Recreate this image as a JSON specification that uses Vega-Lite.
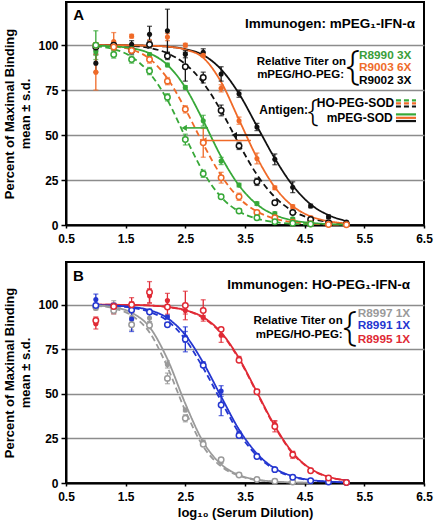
{
"$schema": "https://vega.github.io/schema/vega-lite/v6.json",
"padding": {"left": 2, "top": 1, "right": 0, "bottom": 0},
"spacing": 37,
"bounds": "flush",
"config": {
 "font": "Liberation Sans",
 "view": {"stroke": "black", "strokeWidth": 2},
 "axis": {"labelFont": "Liberation Sans", "labelFontSize": 12, "labelFontWeight": "bold", "labelColor": "black", "titleFont": "Liberation Sans", "titleFontSize": 13, "titleFontWeight": "bold", "titleColor": "black", "domainColor": "black", "domainWidth": 2, "tickColor": "black", "tickWidth": 1.5, "gridColor": "#8c8c8c", "gridWidth": 1.5},
 "axisX": {"grid": false, "tickSize": 3, "labelPadding": 5, "labelFlush": false},
 "axisY": {"tickSize": 5, "labelPadding": 3, "titlePadding": 5, "titleLineHeight": 16}
},
"datasets": {
 "pointsA": [
  {"s":"R9002","ag":"mPEG-SOD","x":1.0,"y":90,"sd":5},{"s":"R9002","ag":"mPEG-SOD","x":1.3,"y":100,"sd":1},{"s":"R9002","ag":"mPEG-SOD","x":1.6,"y":100.5,"sd":2},{"s":"R9002","ag":"mPEG-SOD","x":1.9,"y":106,"sd":4.5},{"s":"R9002","ag":"mPEG-SOD","x":2.2,"y":108,"sd":12},{"s":"R9002","ag":"mPEG-SOD","x":2.5,"y":95,"sd":2},{"s":"R9002","ag":"mPEG-SOD","x":2.8,"y":96,"sd":2},{"s":"R9002","ag":"mPEG-SOD","x":3.1,"y":84,"sd":4},{"s":"R9002","ag":"mPEG-SOD","x":3.4,"y":73,"sd":2},{"s":"R9002","ag":"mPEG-SOD","x":3.7,"y":54.5,"sd":2},{"s":"R9002","ag":"mPEG-SOD","x":4.0,"y":36.5,"sd":3},{"s":"R9002","ag":"mPEG-SOD","x":4.3,"y":21,"sd":3},{"s":"R9002","ag":"mPEG-SOD","x":4.6,"y":10.6,"sd":1},{"s":"R9002","ag":"mPEG-SOD","x":4.9,"y":4.6,"sd":1},{"s":"R9002","ag":"mPEG-SOD","x":5.2,"y":1.7,"sd":0.5},
  {"s":"R9002","ag":"HO-PEG-SOD","x":1.0,"y":99,"sd":2},{"s":"R9002","ag":"HO-PEG-SOD","x":1.3,"y":100,"sd":1},{"s":"R9002","ag":"HO-PEG-SOD","x":1.6,"y":97,"sd":2},{"s":"R9002","ag":"HO-PEG-SOD","x":1.9,"y":100.4,"sd":2},{"s":"R9002","ag":"HO-PEG-SOD","x":2.2,"y":94,"sd":2},{"s":"R9002","ag":"HO-PEG-SOD","x":2.5,"y":88,"sd":8},{"s":"R9002","ag":"HO-PEG-SOD","x":2.8,"y":82,"sd":3},{"s":"R9002","ag":"HO-PEG-SOD","x":3.1,"y":63.7,"sd":3},{"s":"R9002","ag":"HO-PEG-SOD","x":3.4,"y":44,"sd":2},{"s":"R9002","ag":"HO-PEG-SOD","x":3.7,"y":24,"sd":2},{"s":"R9002","ag":"HO-PEG-SOD","x":4.0,"y":12.4,"sd":1},{"s":"R9002","ag":"HO-PEG-SOD","x":4.3,"y":6.9,"sd":1},{"s":"R9002","ag":"HO-PEG-SOD","x":4.6,"y":3,"sd":0.5},{"s":"R9002","ag":"HO-PEG-SOD","x":4.9,"y":1.2,"sd":0.3},{"s":"R9002","ag":"HO-PEG-SOD","x":5.2,"y":0.5,"sd":0.3},
  {"s":"R9003","ag":"mPEG-SOD","x":1.0,"y":85,"sd":10},{"s":"R9003","ag":"mPEG-SOD","x":1.3,"y":102,"sd":5},{"s":"R9003","ag":"mPEG-SOD","x":1.6,"y":105,"sd":1},{"s":"R9003","ag":"mPEG-SOD","x":1.9,"y":101,"sd":2},{"s":"R9003","ag":"mPEG-SOD","x":2.2,"y":104.5,"sd":2},{"s":"R9003","ag":"mPEG-SOD","x":2.5,"y":100,"sd":1},{"s":"R9003","ag":"mPEG-SOD","x":2.8,"y":94.4,"sd":1},{"s":"R9003","ag":"mPEG-SOD","x":3.1,"y":76,"sd":2},{"s":"R9003","ag":"mPEG-SOD","x":3.4,"y":58,"sd":2},{"s":"R9003","ag":"mPEG-SOD","x":3.7,"y":37,"sd":3},{"s":"R9003","ag":"mPEG-SOD","x":4.0,"y":20.7,"sd":1},{"s":"R9003","ag":"mPEG-SOD","x":4.3,"y":10.2,"sd":1},{"s":"R9003","ag":"mPEG-SOD","x":4.6,"y":4,"sd":1},{"s":"R9003","ag":"mPEG-SOD","x":4.9,"y":1.5,"sd":0.5},{"s":"R9003","ag":"mPEG-SOD","x":5.2,"y":0.5,"sd":0.3},
  {"s":"R9003","ag":"HO-PEG-SOD","x":1.0,"y":100,"sd":1},{"s":"R9003","ag":"HO-PEG-SOD","x":1.3,"y":99,"sd":1},{"s":"R9003","ag":"HO-PEG-SOD","x":1.6,"y":97,"sd":1},{"s":"R9003","ag":"HO-PEG-SOD","x":1.9,"y":92,"sd":2},{"s":"R9003","ag":"HO-PEG-SOD","x":2.2,"y":80,"sd":2},{"s":"R9003","ag":"HO-PEG-SOD","x":2.5,"y":64.3,"sd":2},{"s":"R9003","ag":"HO-PEG-SOD","x":2.8,"y":45.7,"sd":8},{"s":"R9003","ag":"HO-PEG-SOD","x":3.1,"y":26.3,"sd":3},{"s":"R9003","ag":"HO-PEG-SOD","x":3.4,"y":15.7,"sd":2},{"s":"R9003","ag":"HO-PEG-SOD","x":3.7,"y":6.9,"sd":1},{"s":"R9003","ag":"HO-PEG-SOD","x":4.0,"y":4,"sd":1},{"s":"R9003","ag":"HO-PEG-SOD","x":4.3,"y":1.5,"sd":0.5},{"s":"R9003","ag":"HO-PEG-SOD","x":4.6,"y":0.7,"sd":0.3},{"s":"R9003","ag":"HO-PEG-SOD","x":4.9,"y":0.3,"sd":0.2},{"s":"R9003","ag":"HO-PEG-SOD","x":5.2,"y":0.2,"sd":0.2},
  {"s":"R8990","ag":"mPEG-SOD","x":1.0,"y":96.3,"sd":2},{"s":"R8990","ag":"mPEG-SOD","x":1.3,"y":98.5,"sd":1},{"s":"R8990","ag":"mPEG-SOD","x":1.6,"y":98,"sd":1},{"s":"R8990","ag":"mPEG-SOD","x":1.9,"y":94.8,"sd":1},{"s":"R8990","ag":"mPEG-SOD","x":2.2,"y":89,"sd":1},{"s":"R8990","ag":"mPEG-SOD","x":2.5,"y":76.5,"sd":1},{"s":"R8990","ag":"mPEG-SOD","x":2.8,"y":58,"sd":3},{"s":"R8990","ag":"mPEG-SOD","x":3.1,"y":35.6,"sd":2},{"s":"R8990","ag":"mPEG-SOD","x":3.4,"y":22.2,"sd":1},{"s":"R8990","ag":"mPEG-SOD","x":3.7,"y":11.9,"sd":1},{"s":"R8990","ag":"mPEG-SOD","x":4.0,"y":6.3,"sd":1},{"s":"R8990","ag":"mPEG-SOD","x":4.3,"y":3.5,"sd":0.5},{"s":"R8990","ag":"mPEG-SOD","x":4.6,"y":2,"sd":0.5},{"s":"R8990","ag":"mPEG-SOD","x":4.9,"y":1,"sd":0.3},{"s":"R8990","ag":"mPEG-SOD","x":5.2,"y":0.5,"sd":0.2},
  {"s":"R8990","ag":"HO-PEG-SOD","x":1.0,"y":100,"sd":8},{"s":"R8990","ag":"HO-PEG-SOD","x":1.3,"y":94.8,"sd":2},{"s":"R8990","ag":"HO-PEG-SOD","x":1.6,"y":92,"sd":2},{"s":"R8990","ag":"HO-PEG-SOD","x":1.9,"y":85.6,"sd":2},{"s":"R8990","ag":"HO-PEG-SOD","x":2.2,"y":71,"sd":2},{"s":"R8990","ag":"HO-PEG-SOD","x":2.5,"y":47.5,"sd":3},{"s":"R8990","ag":"HO-PEG-SOD","x":2.8,"y":28.5,"sd":2},{"s":"R8990","ag":"HO-PEG-SOD","x":3.1,"y":15.7,"sd":1},{"s":"R8990","ag":"HO-PEG-SOD","x":3.4,"y":7.8,"sd":1},{"s":"R8990","ag":"HO-PEG-SOD","x":3.7,"y":4,"sd":1},{"s":"R8990","ag":"HO-PEG-SOD","x":4.0,"y":1.8,"sd":0.5},{"s":"R8990","ag":"HO-PEG-SOD","x":4.3,"y":1,"sd":0.3},{"s":"R8990","ag":"HO-PEG-SOD","x":4.6,"y":0.5,"sd":0.2}
 ],
 "curvesA": [
  {"s":"R9002","ag":"mPEG-SOD","x":1.0,"y":100},{"s":"R9002","ag":"mPEG-SOD","x":1.3,"y":100},{"s":"R9002","ag":"mPEG-SOD","x":1.6,"y":99.9},{"s":"R9002","ag":"mPEG-SOD","x":1.9,"y":99.7},{"s":"R9002","ag":"mPEG-SOD","x":2.2,"y":99.2},{"s":"R9002","ag":"mPEG-SOD","x":2.5,"y":97.8},{"s":"R9002","ag":"mPEG-SOD","x":2.8,"y":94.5},{"s":"R9002","ag":"mPEG-SOD","x":3.1,"y":86.5},{"s":"R9002","ag":"mPEG-SOD","x":3.4,"y":73},{"s":"R9002","ag":"mPEG-SOD","x":3.7,"y":55},{"s":"R9002","ag":"mPEG-SOD","x":4.0,"y":37},{"s":"R9002","ag":"mPEG-SOD","x":4.3,"y":22},{"s":"R9002","ag":"mPEG-SOD","x":4.6,"y":11.5},{"s":"R9002","ag":"mPEG-SOD","x":4.9,"y":5.5},{"s":"R9002","ag":"mPEG-SOD","x":5.2,"y":2.2},
  {"s":"R9002","ag":"HO-PEG-SOD","x":1.0,"y":100},{"s":"R9002","ag":"HO-PEG-SOD","x":1.3,"y":99.9},{"s":"R9002","ag":"HO-PEG-SOD","x":1.6,"y":99.6},{"s":"R9002","ag":"HO-PEG-SOD","x":1.9,"y":98.5},{"s":"R9002","ag":"HO-PEG-SOD","x":2.2,"y":95.5},{"s":"R9002","ag":"HO-PEG-SOD","x":2.5,"y":89.5},{"s":"R9002","ag":"HO-PEG-SOD","x":2.8,"y":79},{"s":"R9002","ag":"HO-PEG-SOD","x":3.1,"y":63.5},{"s":"R9002","ag":"HO-PEG-SOD","x":3.4,"y":45},{"s":"R9002","ag":"HO-PEG-SOD","x":3.7,"y":28},{"s":"R9002","ag":"HO-PEG-SOD","x":4.0,"y":15.5},{"s":"R9002","ag":"HO-PEG-SOD","x":4.3,"y":7.8},{"s":"R9002","ag":"HO-PEG-SOD","x":4.6,"y":3.7},{"s":"R9002","ag":"HO-PEG-SOD","x":4.9,"y":1.7},{"s":"R9002","ag":"HO-PEG-SOD","x":5.2,"y":0.7},
  {"s":"R9003","ag":"mPEG-SOD","x":1.0,"y":100},{"s":"R9003","ag":"mPEG-SOD","x":1.3,"y":100},{"s":"R9003","ag":"mPEG-SOD","x":1.6,"y":99.9},{"s":"R9003","ag":"mPEG-SOD","x":1.9,"y":99.7},{"s":"R9003","ag":"mPEG-SOD","x":2.2,"y":99.2},{"s":"R9003","ag":"mPEG-SOD","x":2.5,"y":97.5},{"s":"R9003","ag":"mPEG-SOD","x":2.8,"y":93},{"s":"R9003","ag":"mPEG-SOD","x":3.1,"y":79.5},{"s":"R9003","ag":"mPEG-SOD","x":3.4,"y":58.5},{"s":"R9003","ag":"mPEG-SOD","x":3.7,"y":37.5},{"s":"R9003","ag":"mPEG-SOD","x":4.0,"y":21},{"s":"R9003","ag":"mPEG-SOD","x":4.3,"y":10.5},{"s":"R9003","ag":"mPEG-SOD","x":4.6,"y":4.8},{"s":"R9003","ag":"mPEG-SOD","x":4.9,"y":2.1},{"s":"R9003","ag":"mPEG-SOD","x":5.2,"y":0.9},
  {"s":"R9003","ag":"HO-PEG-SOD","x":1.0,"y":99.8},{"s":"R9003","ag":"HO-PEG-SOD","x":1.3,"y":99.2},{"s":"R9003","ag":"HO-PEG-SOD","x":1.6,"y":97.5},{"s":"R9003","ag":"HO-PEG-SOD","x":1.9,"y":92.5},{"s":"R9003","ag":"HO-PEG-SOD","x":2.2,"y":81.5},{"s":"R9003","ag":"HO-PEG-SOD","x":2.5,"y":64.5},{"s":"R9003","ag":"HO-PEG-SOD","x":2.8,"y":45},{"s":"R9003","ag":"HO-PEG-SOD","x":3.1,"y":27.5},{"s":"R9003","ag":"HO-PEG-SOD","x":3.4,"y":15},{"s":"R9003","ag":"HO-PEG-SOD","x":3.7,"y":7.5},{"s":"R9003","ag":"HO-PEG-SOD","x":4.0,"y":3.5},{"s":"R9003","ag":"HO-PEG-SOD","x":4.3,"y":1.6},{"s":"R9003","ag":"HO-PEG-SOD","x":4.6,"y":0.7},{"s":"R9003","ag":"HO-PEG-SOD","x":4.9,"y":0.3},{"s":"R9003","ag":"HO-PEG-SOD","x":5.2,"y":0.1},
  {"s":"R8990","ag":"mPEG-SOD","x":1.0,"y":99.7},{"s":"R8990","ag":"mPEG-SOD","x":1.3,"y":99.3},{"s":"R8990","ag":"mPEG-SOD","x":1.6,"y":98.3},{"s":"R8990","ag":"mPEG-SOD","x":1.9,"y":95.5},{"s":"R8990","ag":"mPEG-SOD","x":2.2,"y":89},{"s":"R8990","ag":"mPEG-SOD","x":2.5,"y":76.5},{"s":"R8990","ag":"mPEG-SOD","x":2.8,"y":58},{"s":"R8990","ag":"mPEG-SOD","x":3.1,"y":38},{"s":"R8990","ag":"mPEG-SOD","x":3.4,"y":22},{"s":"R8990","ag":"mPEG-SOD","x":3.7,"y":11.5},{"s":"R8990","ag":"mPEG-SOD","x":4.0,"y":5.6},{"s":"R8990","ag":"mPEG-SOD","x":4.3,"y":2.6},{"s":"R8990","ag":"mPEG-SOD","x":4.6,"y":1.2},{"s":"R8990","ag":"mPEG-SOD","x":4.9,"y":0.5},{"s":"R8990","ag":"mPEG-SOD","x":5.2,"y":0.2},
  {"s":"R8990","ag":"HO-PEG-SOD","x":1.0,"y":99.3},{"s":"R8990","ag":"HO-PEG-SOD","x":1.3,"y":97.8},{"s":"R8990","ag":"HO-PEG-SOD","x":1.6,"y":93.5},{"s":"R8990","ag":"HO-PEG-SOD","x":1.9,"y":84.5},{"s":"R8990","ag":"HO-PEG-SOD","x":2.2,"y":69.5},{"s":"R8990","ag":"HO-PEG-SOD","x":2.5,"y":49},{"s":"R8990","ag":"HO-PEG-SOD","x":2.8,"y":29.5},{"s":"R8990","ag":"HO-PEG-SOD","x":3.1,"y":15.5},{"s":"R8990","ag":"HO-PEG-SOD","x":3.4,"y":7.5},{"s":"R8990","ag":"HO-PEG-SOD","x":3.7,"y":3.5},{"s":"R8990","ag":"HO-PEG-SOD","x":4.0,"y":1.6},{"s":"R8990","ag":"HO-PEG-SOD","x":4.3,"y":0.7},{"s":"R8990","ag":"HO-PEG-SOD","x":4.6,"y":0.3}
 ],
 "arrowsA": [
  {"s":"R8990","x":2.48,"x2":2.88,"y":54},
  {"s":"R9003","x":2.81,"x2":3.6,"y":47},
  {"s":"R9002","x":3.32,"x2":3.77,"y":50}
 ],
 "pointsB": [
  {"s":"R8997","ag":"mPEG-SOD","x":1.0,"y":98,"sd":1},{"s":"R8997","ag":"mPEG-SOD","x":1.3,"y":99.3,"sd":3},{"s":"R8997","ag":"mPEG-SOD","x":1.6,"y":93,"sd":2},{"s":"R8997","ag":"mPEG-SOD","x":1.9,"y":92.6,"sd":2},{"s":"R8997","ag":"mPEG-SOD","x":2.2,"y":66.5,"sd":2},{"s":"R8997","ag":"mPEG-SOD","x":2.5,"y":41,"sd":1},{"s":"R8997","ag":"mPEG-SOD","x":2.8,"y":23,"sd":1},{"s":"R8997","ag":"mPEG-SOD","x":3.1,"y":12,"sd":1},{"s":"R8997","ag":"mPEG-SOD","x":3.4,"y":4.7,"sd":0.5},{"s":"R8997","ag":"mPEG-SOD","x":3.7,"y":2,"sd":0.5},{"s":"R8997","ag":"mPEG-SOD","x":4.0,"y":1,"sd":0.3},{"s":"R8997","ag":"mPEG-SOD","x":4.3,"y":0.8,"sd":0.3},{"s":"R8997","ag":"mPEG-SOD","x":4.6,"y":0.5,"sd":0.2},
  {"s":"R8997","ag":"HO-PEG-SOD","x":1.0,"y":98.7,"sd":1},{"s":"R8997","ag":"HO-PEG-SOD","x":1.3,"y":96.8,"sd":2},{"s":"R8997","ag":"HO-PEG-SOD","x":1.6,"y":88.8,"sd":3},{"s":"R8997","ag":"HO-PEG-SOD","x":1.9,"y":88.5,"sd":2},{"s":"R8997","ag":"HO-PEG-SOD","x":2.2,"y":58.7,"sd":3},{"s":"R8997","ag":"HO-PEG-SOD","x":2.5,"y":36.3,"sd":2},{"s":"R8997","ag":"HO-PEG-SOD","x":2.8,"y":21.8,"sd":1},{"s":"R8997","ag":"HO-PEG-SOD","x":3.1,"y":13,"sd":1},{"s":"R8997","ag":"HO-PEG-SOD","x":3.4,"y":4.5,"sd":0.5},{"s":"R8997","ag":"HO-PEG-SOD","x":3.7,"y":1.9,"sd":0.5},{"s":"R8997","ag":"HO-PEG-SOD","x":4.0,"y":1,"sd":0.3},{"s":"R8997","ag":"HO-PEG-SOD","x":4.3,"y":0.5,"sd":0.2},
  {"s":"R8991","ag":"mPEG-SOD","x":1.0,"y":103,"sd":3},{"s":"R8991","ag":"mPEG-SOD","x":1.3,"y":99.5,"sd":1},{"s":"R8991","ag":"mPEG-SOD","x":1.6,"y":92,"sd":7},{"s":"R8991","ag":"mPEG-SOD","x":1.9,"y":96.5,"sd":1},{"s":"R8991","ag":"mPEG-SOD","x":2.2,"y":93.1,"sd":1},{"s":"R8991","ag":"mPEG-SOD","x":2.5,"y":82,"sd":3},{"s":"R8991","ag":"mPEG-SOD","x":2.8,"y":67,"sd":1},{"s":"R8991","ag":"mPEG-SOD","x":3.1,"y":51.6,"sd":3},{"s":"R8991","ag":"mPEG-SOD","x":3.4,"y":28,"sd":1},{"s":"R8991","ag":"mPEG-SOD","x":3.7,"y":15.5,"sd":1},{"s":"R8991","ag":"mPEG-SOD","x":4.0,"y":8,"sd":0.5},{"s":"R8991","ag":"mPEG-SOD","x":4.3,"y":3.5,"sd":0.5},{"s":"R8991","ag":"mPEG-SOD","x":4.6,"y":1.5,"sd":0.3},{"s":"R8991","ag":"mPEG-SOD","x":4.9,"y":0.7,"sd":0.2},{"s":"R8991","ag":"mPEG-SOD","x":5.2,"y":0.3,"sd":0.2},
  {"s":"R8991","ag":"HO-PEG-SOD","x":1.0,"y":99.6,"sd":1},{"s":"R8991","ag":"HO-PEG-SOD","x":1.3,"y":99.3,"sd":1},{"s":"R8991","ag":"HO-PEG-SOD","x":1.6,"y":97,"sd":1},{"s":"R8991","ag":"HO-PEG-SOD","x":1.9,"y":95.9,"sd":1},{"s":"R8991","ag":"HO-PEG-SOD","x":2.2,"y":88.8,"sd":1},{"s":"R8991","ag":"HO-PEG-SOD","x":2.5,"y":80.6,"sd":7},{"s":"R8991","ag":"HO-PEG-SOD","x":2.8,"y":66,"sd":1},{"s":"R8991","ag":"HO-PEG-SOD","x":3.1,"y":43.8,"sd":6},{"s":"R8991","ag":"HO-PEG-SOD","x":3.4,"y":26.6,"sd":1},{"s":"R8991","ag":"HO-PEG-SOD","x":3.7,"y":14.9,"sd":1},{"s":"R8991","ag":"HO-PEG-SOD","x":4.0,"y":7.5,"sd":0.5},{"s":"R8991","ag":"HO-PEG-SOD","x":4.3,"y":3.2,"sd":0.5},{"s":"R8991","ag":"HO-PEG-SOD","x":4.6,"y":1.3,"sd":0.3},{"s":"R8991","ag":"HO-PEG-SOD","x":4.9,"y":0.6,"sd":0.2},{"s":"R8991","ag":"HO-PEG-SOD","x":5.2,"y":0.3,"sd":0.2},
  {"s":"R8995","ag":"mPEG-SOD","x":1.0,"y":89.4,"sd":3},{"s":"R8995","ag":"mPEG-SOD","x":1.3,"y":98,"sd":3},{"s":"R8995","ag":"mPEG-SOD","x":1.6,"y":98.7,"sd":3},{"s":"R8995","ag":"mPEG-SOD","x":1.9,"y":105,"sd":4},{"s":"R8995","ag":"mPEG-SOD","x":2.2,"y":102.4,"sd":4},{"s":"R8995","ag":"mPEG-SOD","x":2.5,"y":96.8,"sd":2},{"s":"R8995","ag":"mPEG-SOD","x":2.8,"y":93,"sd":1},{"s":"R8995","ag":"mPEG-SOD","x":3.1,"y":82.9,"sd":4},{"s":"R8995","ag":"mPEG-SOD","x":3.4,"y":70,"sd":1},{"s":"R8995","ag":"mPEG-SOD","x":3.7,"y":51.5,"sd":1},{"s":"R8995","ag":"mPEG-SOD","x":4.0,"y":33,"sd":2},{"s":"R8995","ag":"mPEG-SOD","x":4.3,"y":16.5,"sd":1},{"s":"R8995","ag":"mPEG-SOD","x":4.6,"y":7.2,"sd":1},{"s":"R8995","ag":"mPEG-SOD","x":4.9,"y":3,"sd":0.5},{"s":"R8995","ag":"mPEG-SOD","x":5.2,"y":0.5,"sd":0.3},
  {"s":"R8995","ag":"HO-PEG-SOD","x":1.0,"y":91.2,"sd":2},{"s":"R8995","ag":"HO-PEG-SOD","x":1.3,"y":99,"sd":1},{"s":"R8995","ag":"HO-PEG-SOD","x":1.6,"y":100,"sd":4},{"s":"R8995","ag":"HO-PEG-SOD","x":1.9,"y":107,"sd":6},{"s":"R8995","ag":"HO-PEG-SOD","x":2.2,"y":98.7,"sd":4},{"s":"R8995","ag":"HO-PEG-SOD","x":2.5,"y":99.6,"sd":8},{"s":"R8995","ag":"HO-PEG-SOD","x":2.8,"y":96.8,"sd":6},{"s":"R8995","ag":"HO-PEG-SOD","x":3.1,"y":86.2,"sd":1},{"s":"R8995","ag":"HO-PEG-SOD","x":3.4,"y":68.9,"sd":1},{"s":"R8995","ag":"HO-PEG-SOD","x":3.7,"y":51.2,"sd":1},{"s":"R8995","ag":"HO-PEG-SOD","x":4.0,"y":31.7,"sd":3},{"s":"R8995","ag":"HO-PEG-SOD","x":4.3,"y":15.8,"sd":2},{"s":"R8995","ag":"HO-PEG-SOD","x":4.6,"y":6.9,"sd":1},{"s":"R8995","ag":"HO-PEG-SOD","x":4.9,"y":2.8,"sd":0.5},{"s":"R8995","ag":"HO-PEG-SOD","x":5.2,"y":0.3,"sd":0.2}
 ],
 "curvesB": [
  {"s":"R8995","ag":"mPEG-SOD","x":1.0,"y":100},{"s":"R8995","ag":"mPEG-SOD","x":1.3,"y":100},{"s":"R8995","ag":"mPEG-SOD","x":1.6,"y":99.9},{"s":"R8995","ag":"mPEG-SOD","x":1.9,"y":99.6},{"s":"R8995","ag":"mPEG-SOD","x":2.2,"y":98.8},{"s":"R8995","ag":"mPEG-SOD","x":2.5,"y":97},{"s":"R8995","ag":"mPEG-SOD","x":2.8,"y":93},{"s":"R8995","ag":"mPEG-SOD","x":3.1,"y":84.5},{"s":"R8995","ag":"mPEG-SOD","x":3.4,"y":70},{"s":"R8995","ag":"mPEG-SOD","x":3.7,"y":51},{"s":"R8995","ag":"mPEG-SOD","x":4.0,"y":32},{"s":"R8995","ag":"mPEG-SOD","x":4.3,"y":17},{"s":"R8995","ag":"mPEG-SOD","x":4.6,"y":8},{"s":"R8995","ag":"mPEG-SOD","x":4.9,"y":3.5},{"s":"R8995","ag":"mPEG-SOD","x":5.2,"y":1.5},
  {"s":"R8995","ag":"HO-PEG-SOD","x":1.0,"y":100},{"s":"R8995","ag":"HO-PEG-SOD","x":1.3,"y":100},{"s":"R8995","ag":"HO-PEG-SOD","x":1.6,"y":99.9},{"s":"R8995","ag":"HO-PEG-SOD","x":1.9,"y":99.6},{"s":"R8995","ag":"HO-PEG-SOD","x":2.2,"y":98.7},{"s":"R8995","ag":"HO-PEG-SOD","x":2.5,"y":96.8},{"s":"R8995","ag":"HO-PEG-SOD","x":2.8,"y":92.6},{"s":"R8995","ag":"HO-PEG-SOD","x":3.1,"y":84},{"s":"R8995","ag":"HO-PEG-SOD","x":3.4,"y":69.5},{"s":"R8995","ag":"HO-PEG-SOD","x":3.7,"y":50.5},{"s":"R8995","ag":"HO-PEG-SOD","x":4.0,"y":31.5},{"s":"R8995","ag":"HO-PEG-SOD","x":4.3,"y":16.5},{"s":"R8995","ag":"HO-PEG-SOD","x":4.6,"y":7.8},{"s":"R8995","ag":"HO-PEG-SOD","x":4.9,"y":3.3},{"s":"R8995","ag":"HO-PEG-SOD","x":5.2,"y":1.4},
  {"s":"R8991","ag":"mPEG-SOD","x":1.0,"y":99.8},{"s":"R8991","ag":"mPEG-SOD","x":1.3,"y":99.5},{"s":"R8991","ag":"mPEG-SOD","x":1.6,"y":98.8},{"s":"R8991","ag":"mPEG-SOD","x":1.9,"y":97},{"s":"R8991","ag":"mPEG-SOD","x":2.2,"y":92.5},{"s":"R8991","ag":"mPEG-SOD","x":2.5,"y":83},{"s":"R8991","ag":"mPEG-SOD","x":2.8,"y":67.5},{"s":"R8991","ag":"mPEG-SOD","x":3.1,"y":48.5},{"s":"R8991","ag":"mPEG-SOD","x":3.4,"y":30},{"s":"R8991","ag":"mPEG-SOD","x":3.7,"y":16.5},{"s":"R8991","ag":"mPEG-SOD","x":4.0,"y":8.2},{"s":"R8991","ag":"mPEG-SOD","x":4.3,"y":3.8},{"s":"R8991","ag":"mPEG-SOD","x":4.6,"y":1.7},{"s":"R8991","ag":"mPEG-SOD","x":4.9,"y":0.8},{"s":"R8991","ag":"mPEG-SOD","x":5.2,"y":0.3},
  {"s":"R8991","ag":"HO-PEG-SOD","x":1.0,"y":99.7},{"s":"R8991","ag":"HO-PEG-SOD","x":1.3,"y":99.3},{"s":"R8991","ag":"HO-PEG-SOD","x":1.6,"y":98.3},{"s":"R8991","ag":"HO-PEG-SOD","x":1.9,"y":96},{"s":"R8991","ag":"HO-PEG-SOD","x":2.2,"y":91},{"s":"R8991","ag":"HO-PEG-SOD","x":2.5,"y":80.5},{"s":"R8991","ag":"HO-PEG-SOD","x":2.8,"y":64.5},{"s":"R8991","ag":"HO-PEG-SOD","x":3.1,"y":46},{"s":"R8991","ag":"HO-PEG-SOD","x":3.4,"y":28},{"s":"R8991","ag":"HO-PEG-SOD","x":3.7,"y":15.3},{"s":"R8991","ag":"HO-PEG-SOD","x":4.0,"y":7.6},{"s":"R8991","ag":"HO-PEG-SOD","x":4.3,"y":3.5},{"s":"R8991","ag":"HO-PEG-SOD","x":4.6,"y":1.5},{"s":"R8991","ag":"HO-PEG-SOD","x":4.9,"y":0.7},{"s":"R8991","ag":"HO-PEG-SOD","x":5.2,"y":0.3},
  {"s":"R8997","ag":"mPEG-SOD","x":1.0,"y":99.6},{"s":"R8997","ag":"mPEG-SOD","x":1.3,"y":98.7},{"s":"R8997","ag":"mPEG-SOD","x":1.6,"y":95.5},{"s":"R8997","ag":"mPEG-SOD","x":1.9,"y":87.5},{"s":"R8997","ag":"mPEG-SOD","x":2.2,"y":69.5},{"s":"R8997","ag":"mPEG-SOD","x":2.5,"y":44.5},{"s":"R8997","ag":"mPEG-SOD","x":2.8,"y":23},{"s":"R8997","ag":"mPEG-SOD","x":3.1,"y":10.5},{"s":"R8997","ag":"mPEG-SOD","x":3.4,"y":4.5},{"s":"R8997","ag":"mPEG-SOD","x":3.7,"y":1.9},{"s":"R8997","ag":"mPEG-SOD","x":4.0,"y":0.8},{"s":"R8997","ag":"mPEG-SOD","x":4.3,"y":0.3},{"s":"R8997","ag":"mPEG-SOD","x":4.6,"y":0.1},
  {"s":"R8997","ag":"HO-PEG-SOD","x":1.0,"y":99.4},{"s":"R8997","ag":"HO-PEG-SOD","x":1.3,"y":98},{"s":"R8997","ag":"HO-PEG-SOD","x":1.6,"y":94},{"s":"R8997","ag":"HO-PEG-SOD","x":1.9,"y":84.5},{"s":"R8997","ag":"HO-PEG-SOD","x":2.2,"y":65},{"s":"R8997","ag":"HO-PEG-SOD","x":2.5,"y":40.5},{"s":"R8997","ag":"HO-PEG-SOD","x":2.8,"y":20.5},{"s":"R8997","ag":"HO-PEG-SOD","x":3.1,"y":9.3},{"s":"R8997","ag":"HO-PEG-SOD","x":3.4,"y":4},{"s":"R8997","ag":"HO-PEG-SOD","x":3.7,"y":1.7},{"s":"R8997","ag":"HO-PEG-SOD","x":4.0,"y":0.7},{"s":"R8997","ag":"HO-PEG-SOD","x":4.3,"y":0.3},{"s":"R8997","ag":"HO-PEG-SOD","x":4.6,"y":0.1}
 ]
},
"vconcat": [
 {
  "width": 358, "height": 223,
  "layer": [
   {"data": {"name": "curvesA"},
    "mark": {"type": "line", "interpolate": "monotone", "strokeWidth": 1.8},
    "encoding": {
     "x": {"field": "x", "type": "quantitative", "title": null, "scale": {"domain": [0.5, 6.5], "nice": false, "zero": false}, "axis": {"values": [0.5,1,1.5,2,2.5,3,3.5,4,4.5,5,5.5,6,6.5], "labelExpr": "datum.value % 1 == 0.5 ? format(datum.value, '.1f') : ''"}},
     "y": {"field": "y", "type": "quantitative", "title": ["Percent of Maximal Binding", "mean ± s.d."], "scale": {"domain": [0, 124], "nice": false}, "axis": {"values": [0,25,50,75,100]}},
     "color": {"field": "s", "type": "nominal", "legend": null, "scale": {"domain": ["R8990","R9003","R9002","R8997","R8991","R8995"], "range": ["#37a838","#f06a28","#111111","#9a9a9a","#2436d0","#e02a35"]}},
     "strokeDash": {"field": "ag", "type": "nominal", "legend": null, "scale": {"domain": ["mPEG-SOD","HO-PEG-SOD"], "range": [[1,0],[6,3.5]]}}
    }},
   {"data": {"name": "pointsA"},
    "mark": {"type": "errorbar", "ticks": true, "thickness": 1.3},
    "encoding": {"x": {"field": "x", "type": "quantitative", "title": null}, "y": {"field": "y", "type": "quantitative", "title": ["Percent of Maximal Binding", "mean ± s.d."]}, "yError": {"field": "sd"}, "color": {"field": "s", "type": "nominal", "legend": null}}},
   {"data": {"name": "arrowsA"},
    "mark": {"type": "rule", "strokeWidth": 1.6},
    "encoding": {"x": {"field": "x", "type": "quantitative", "title": null}, "x2": {"field": "x2"}, "y": {"field": "y", "type": "quantitative", "title": ["Percent of Maximal Binding", "mean ± s.d."]}, "color": {"field": "s", "type": "nominal", "legend": null}}},
   {"data": {"name": "arrowsA"},
    "mark": {"type": "point", "shape": "triangle-left", "filled": true, "size": 40, "opacity": 1},
    "encoding": {"x": {"field": "x", "type": "quantitative", "title": null}, "y": {"field": "y", "type": "quantitative", "title": ["Percent of Maximal Binding", "mean ± s.d."]}, "color": {"field": "s", "type": "nominal", "legend": null}}},
   {"data": {"name": "pointsA"},
    "transform": [{"filter": "datum.ag == 'mPEG-SOD'"}],
    "mark": {"type": "circle", "size": 26, "opacity": 1},
    "encoding": {"x": {"field": "x", "type": "quantitative", "title": null}, "y": {"field": "y", "type": "quantitative", "title": ["Percent of Maximal Binding", "mean ± s.d."]}, "color": {"field": "s", "type": "nominal", "legend": null}}},
   {"data": {"name": "pointsA"},
    "transform": [{"filter": "datum.ag == 'HO-PEG-SOD'"}],
    "mark": {"type": "point", "shape": "circle", "size": 30, "filled": false, "fill": "white", "fillOpacity": 1, "strokeWidth": 1.5, "opacity": 1},
    "encoding": {"x": {"field": "x", "type": "quantitative", "title": null}, "y": {"field": "y", "type": "quantitative", "title": ["Percent of Maximal Binding", "mean ± s.d."]}, "color": {"field": "s", "type": "nominal", "legend": null}}},
   {"data": {"values": [{}]}, "mark": {"type": "text", "text": "A", "align": "left", "baseline": "middle", "fontSize": 15, "fontWeight": "bold", "color": "black"}, "encoding": {"x": {"datum": 0.62, "type": "quantitative"}, "y": {"datum": 116.5, "type": "quantitative"}}},
   {"data": {"values": [{}]}, "mark": {"type": "text", "text": "Immunogen: mPEG₁-IFN-α", "align": "right", "baseline": "middle", "fontSize": 13.5, "fontWeight": "bold", "color": "black"}, "encoding": {"x": {"datum": 6.349, "type": "quantitative"}, "y": {"datum": 111.7, "type": "quantitative"}}},
   {"data": {"values": [{}]}, "mark": {"type": "text", "text": "Relative Titer on", "align": "right", "baseline": "middle", "fontSize": 11.5, "fontWeight": "bold", "color": "black"}, "encoding": {"x": {"datum": 5.192, "type": "quantitative"}, "y": {"datum": 90.6, "type": "quantitative"}}},
   {"data": {"values": [{}]}, "mark": {"type": "text", "text": "mPEG/HO-PEG:", "align": "right", "baseline": "middle", "fontSize": 11.5, "fontWeight": "bold", "color": "black"}, "encoding": {"x": {"datum": 5.16, "type": "quantitative"}, "y": {"datum": 83.6, "type": "quantitative"}}},
   {"data": {"values": [{}]}, "mark": {"type": "text", "text": "{", "align": "center", "baseline": "middle", "fontSize": 40, "font": "Open Sans", "fontWeight": 300, "color": "black"}, "encoding": {"x": {"datum": 5.31, "type": "quantitative"}, "y": {"datum": 87.6, "type": "quantitative"}}},
   {"data": {"values": [{}]}, "mark": {"type": "text", "text": "R8990 3X", "align": "left", "baseline": "middle", "fontSize": 11.8, "fontWeight": "bold", "color": "#3a9e3a"}, "encoding": {"x": {"datum": 5.41, "type": "quantitative"}, "y": {"datum": 94.7, "type": "quantitative"}}},
   {"data": {"values": [{}]}, "mark": {"type": "text", "text": "R9003 6X", "align": "left", "baseline": "middle", "fontSize": 11.8, "fontWeight": "bold", "color": "#ef6c2a"}, "encoding": {"x": {"datum": 5.41, "type": "quantitative"}, "y": {"datum": 87.7, "type": "quantitative"}}},
   {"data": {"values": [{}]}, "mark": {"type": "text", "text": "R9002 3X", "align": "left", "baseline": "middle", "fontSize": 11.8, "fontWeight": "bold", "color": "black"}, "encoding": {"x": {"datum": 5.41, "type": "quantitative"}, "y": {"datum": 80.5, "type": "quantitative"}}},
   {"data": {"values": [{}]}, "mark": {"type": "text", "text": "Antigen:", "align": "right", "baseline": "middle", "fontSize": 12, "fontWeight": "bold", "color": "black"}, "encoding": {"x": {"datum": 4.556, "type": "quantitative"}, "y": {"datum": 63.9, "type": "quantitative"}}},
   {"data": {"values": [{}]}, "mark": {"type": "text", "text": "{", "align": "center", "baseline": "middle", "fontSize": 32, "font": "Open Sans", "fontWeight": 300, "color": "black"}, "encoding": {"x": {"datum": 4.64, "type": "quantitative"}, "y": {"datum": 63.3, "type": "quantitative"}}},
   {"data": {"values": [{}]}, "mark": {"type": "text", "text": "HO-PEG-SOD", "align": "right", "baseline": "middle", "fontSize": 12, "fontWeight": "bold", "color": "black"}, "encoding": {"x": {"datum": 6.0, "type": "quantitative"}, "y": {"datum": 67.9, "type": "quantitative"}}},
   {"data": {"values": [{}]}, "mark": {"type": "text", "text": "mPEG-SOD", "align": "right", "baseline": "middle", "fontSize": 12, "fontWeight": "bold", "color": "black"}, "encoding": {"x": {"datum": 5.975, "type": "quantitative"}, "y": {"datum": 59.3, "type": "quantitative"}}},
   {"data": {"values": [{}]}, "mark": {"type": "rule", "color": "#37a838", "strokeWidth": 2.2, "strokeDash": [5, 3]}, "encoding": {"x": {"datum": 6.03, "type": "quantitative"}, "x2": {"datum": 6.366}, "y": {"datum": 69.3, "type": "quantitative"}}},
   {"data": {"values": [{}]}, "mark": {"type": "rule", "color": "#f06a28", "strokeWidth": 2.2, "strokeDash": [5, 3]}, "encoding": {"x": {"datum": 6.03, "type": "quantitative"}, "x2": {"datum": 6.366}, "y": {"datum": 67.6, "type": "quantitative"}}},
   {"data": {"values": [{}]}, "mark": {"type": "rule", "color": "#111111", "strokeWidth": 2.2, "strokeDash": [5, 3]}, "encoding": {"x": {"datum": 6.03, "type": "quantitative"}, "x2": {"datum": 6.366}, "y": {"datum": 65.9, "type": "quantitative"}}},
   {"data": {"values": [{}]}, "mark": {"type": "rule", "color": "#37a838", "strokeWidth": 2.2}, "encoding": {"x": {"datum": 6.03, "type": "quantitative"}, "x2": {"datum": 6.366}, "y": {"datum": 61.5, "type": "quantitative"}}},
   {"data": {"values": [{}]}, "mark": {"type": "rule", "color": "#f06a28", "strokeWidth": 2.2}, "encoding": {"x": {"datum": 6.03, "type": "quantitative"}, "x2": {"datum": 6.366}, "y": {"datum": 59.6, "type": "quantitative"}}},
   {"data": {"values": [{}]}, "mark": {"type": "rule", "color": "#111111", "strokeWidth": 2.2}, "encoding": {"x": {"datum": 6.03, "type": "quantitative"}, "x2": {"datum": 6.366}, "y": {"datum": 57.8, "type": "quantitative"}}}
  ]
 },
 {
  "width": 358, "height": 221,
  "layer": [
   {"data": {"name": "curvesB"},
    "mark": {"type": "line", "interpolate": "monotone", "strokeWidth": 1.8},
    "encoding": {
     "x": {"field": "x", "type": "quantitative", "title": "log₁₀ (Serum Dilution)", "scale": {"domain": [0.5, 6.5], "nice": false, "zero": false}, "axis": {"titlePadding": 4, "values": [0.5,1,1.5,2,2.5,3,3.5,4,4.5,5,5.5,6,6.5], "labelExpr": "datum.value % 1 == 0.5 ? format(datum.value, '.1f') : ''"}},
     "y": {"field": "y", "type": "quantitative", "title": ["Percent of Maximal Binding", "mean ± s.d."], "scale": {"domain": [0, 124], "nice": false}, "axis": {"values": [0,25,50,75,100]}},
     "color": {"field": "s", "type": "nominal", "legend": null, "scale": {"domain": ["R8990","R9003","R9002","R8997","R8991","R8995"], "range": ["#37a838","#f06a28","#111111","#9a9a9a","#2436d0","#e02a35"]}},
     "strokeDash": {"field": "ag", "type": "nominal", "legend": null, "scale": {"domain": ["mPEG-SOD","HO-PEG-SOD"], "range": [[1,0],[6,3.5]]}}
    }},
   {"data": {"name": "pointsB"},
    "mark": {"type": "errorbar", "ticks": true, "thickness": 1.3},
    "encoding": {"x": {"field": "x", "type": "quantitative", "title": "log₁₀ (Serum Dilution)"}, "y": {"field": "y", "type": "quantitative", "title": ["Percent of Maximal Binding", "mean ± s.d."]}, "yError": {"field": "sd"}, "color": {"field": "s", "type": "nominal", "legend": null}}},
   {"data": {"name": "pointsB"},
    "transform": [{"filter": "datum.ag == 'mPEG-SOD'"}],
    "mark": {"type": "circle", "size": 26, "opacity": 1},
    "encoding": {"x": {"field": "x", "type": "quantitative", "title": "log₁₀ (Serum Dilution)"}, "y": {"field": "y", "type": "quantitative", "title": ["Percent of Maximal Binding", "mean ± s.d."]}, "color": {"field": "s", "type": "nominal", "legend": null}}},
   {"data": {"name": "pointsB"},
    "transform": [{"filter": "datum.ag == 'HO-PEG-SOD'"}],
    "mark": {"type": "point", "shape": "circle", "size": 30, "filled": false, "fill": "white", "fillOpacity": 1, "strokeWidth": 1.5, "opacity": 1},
    "encoding": {"x": {"field": "x", "type": "quantitative", "title": "log₁₀ (Serum Dilution)"}, "y": {"field": "y", "type": "quantitative", "title": ["Percent of Maximal Binding", "mean ± s.d."]}, "color": {"field": "s", "type": "nominal", "legend": null}}},
   {"data": {"values": [{}]}, "mark": {"type": "text", "text": "B", "align": "left", "baseline": "middle", "fontSize": 15, "fontWeight": "bold", "color": "black"}, "encoding": {"x": {"datum": 0.617, "type": "quantitative"}, "y": {"datum": 116, "type": "quantitative"}}},
   {"data": {"values": [{}]}, "mark": {"type": "text", "text": "Immunogen: HO-PEG₁-IFN-α", "align": "right", "baseline": "middle", "fontSize": 13.5, "fontWeight": "bold", "color": "black"}, "encoding": {"x": {"datum": 6.265, "type": "quantitative"}, "y": {"datum": 111.2, "type": "quantitative"}}},
   {"data": {"values": [{}]}, "mark": {"type": "text", "text": "Relative Titer on", "align": "right", "baseline": "middle", "fontSize": 11.5, "fontWeight": "bold", "color": "black"}, "encoding": {"x": {"datum": 5.137, "type": "quantitative"}, "y": {"datum": 90.7, "type": "quantitative"}}},
   {"data": {"values": [{}]}, "mark": {"type": "text", "text": "mPEG/HO-PEG:", "align": "right", "baseline": "middle", "fontSize": 11.5, "fontWeight": "bold", "color": "black"}, "encoding": {"x": {"datum": 5.137, "type": "quantitative"}, "y": {"datum": 83.2, "type": "quantitative"}}},
   {"data": {"values": [{}]}, "mark": {"type": "text", "text": "{", "align": "center", "baseline": "middle", "fontSize": 40, "font": "Open Sans", "fontWeight": 300, "color": "black"}, "encoding": {"x": {"datum": 5.26, "type": "quantitative"}, "y": {"datum": 87, "type": "quantitative"}}},
   {"data": {"values": [{}]}, "mark": {"type": "text", "text": "R8997 1X", "align": "left", "baseline": "middle", "fontSize": 11.8, "fontWeight": "bold", "color": "#9a9a9a"}, "encoding": {"x": {"datum": 5.39, "type": "quantitative"}, "y": {"datum": 95.5, "type": "quantitative"}}},
   {"data": {"values": [{}]}, "mark": {"type": "text", "text": "R8991 1X", "align": "left", "baseline": "middle", "fontSize": 11.8, "fontWeight": "bold", "color": "#2436d0"}, "encoding": {"x": {"datum": 5.39, "type": "quantitative"}, "y": {"datum": 88.5, "type": "quantitative"}}},
   {"data": {"values": [{}]}, "mark": {"type": "text", "text": "R8995 1X", "align": "left", "baseline": "middle", "fontSize": 11.8, "fontWeight": "bold", "color": "#e02a35"}, "encoding": {"x": {"datum": 5.39, "type": "quantitative"}, "y": {"datum": 80.7, "type": "quantitative"}}}
  ]
 }
]
}
